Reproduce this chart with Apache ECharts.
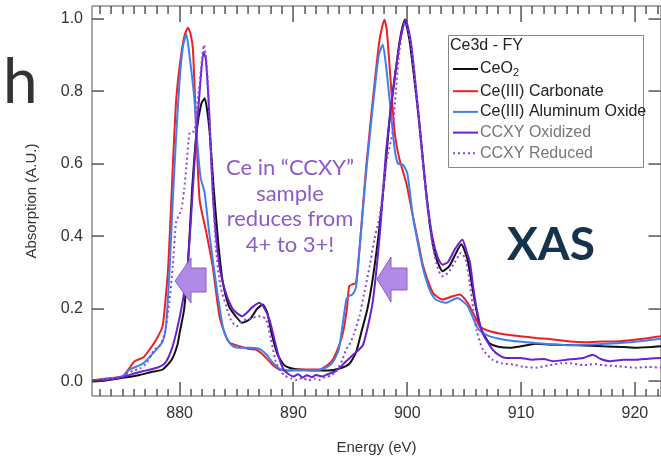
<!DOCTYPE html>
<html>
<head>
<meta charset="utf-8">
<script src="https://cdn.jsdelivr.net/npm/echarts@6/dist/echarts.min.js"></script>
<style>html,body{margin:0;padding:0;background:#fff}#c{width:661px;height:468px}</style>
</head>
<body>
<div id="c"></div>
<script>
// ---- data ----
const energyTicks = [880, 890, 900, 910, 920];
const absTicks = [0, 0.2, 0.4, 0.6, 0.8, 1.0];
const seriesNames = ['CeO2', 'Ce(III) Carbonate', 'Ce(III) Aluminum Oxide', 'CCXY Oxidized', 'CCXY Reduced'];

const ceo2E = [872.3,873.5,875,876.5,877.5,878.5,879.3,879.8,880.0,880.4,880.8,881.1,881.5,881.9,882.2,882.6,883.0,883.4,883.8,884.3,884.8,885.5,886.2,886.8,887.3,887.7,888.1,888.6,889.2,890.0,891.0,892.0,893.0,894.0,894.9,895.5,896.0,896.5,897.0,897.5,898.0,898.5,899.0,899.4,899.8,900.2,900.6,901.0,901.5,902.0,902.5,903.1,903.7,904.3,904.75,905.3,905.9,906.4,907.2,908.0,909.0,910.0,911.3,913,915,917.2,919,920.1,922.3];
const ceo2A = [0.0,0.003,0.01,0.018,0.026,0.033,0.06,0.1,0.134,0.2,0.36,0.53,0.69,0.765,0.781,0.70,0.53,0.38,0.272,0.21,0.185,0.162,0.172,0.2,0.212,0.19,0.13,0.075,0.045,0.035,0.032,0.03,0.03,0.035,0.048,0.08,0.14,0.2,0.29,0.41,0.56,0.74,0.86,0.95,0.997,0.94,0.84,0.73,0.57,0.43,0.345,0.304,0.318,0.355,0.378,0.336,0.226,0.152,0.106,0.096,0.093,0.097,0.104,0.101,0.1,0.097,0.095,0.093,0.097];

const carbE = [872.3,873.5,875.0,876.05,876.8,877.4,877.95,878.5,878.8,879.0,879.27,879.5,879.7,880.0,880.4,880.73,880.95,881.17,881.47,881.76,882.35,882.9,883.5,884.0,884.4,885.3,886.0,886.7,887.1,887.6,888.2,888.8,889.5,890.5,891.5,892.3,893.0,893.45,893.9,894.35,894.7,894.9,895.2,895.5,895.8,896.1,896.4,896.98,897.57,898.0,898.2,898.45,898.9,899.33,899.92,900.5,901.0,901.4,902.27,903.1,904.0,904.6,905.3,906.07,906.36,907.2,908.5,909.9,911.3,912.8,914.3,915.7,917.2,918.7,920.5,922.3];
const carbA = [0.003,0.008,0.015,0.056,0.066,0.09,0.116,0.152,0.24,0.318,0.50,0.66,0.777,0.869,0.95,0.975,0.96,0.915,0.686,0.50,0.41,0.318,0.18,0.13,0.107,0.097,0.09,0.088,0.08,0.065,0.045,0.033,0.03,0.033,0.033,0.033,0.045,0.06,0.09,0.134,0.2,0.263,0.268,0.272,0.364,0.48,0.593,0.777,0.942,0.997,0.97,0.869,0.686,0.611,0.547,0.455,0.38,0.318,0.244,0.226,0.235,0.24,0.217,0.171,0.152,0.139,0.13,0.125,0.12,0.116,0.11,0.108,0.11,0.111,0.117,0.125];

const aloxE = [872.3,873.5,875.0,875.6,876.8,877.95,878.5,878.8,879.1,879.4,879.7,880.0,880.3,880.59,880.9,881.3,881.6,881.85,882.05,882.2,882.6,883.2,883.8,884.2,884.7,885.4,886.15,887.0,887.6,888.2,888.8,889.5,890.5,891.5,892.3,893.0,893.5,894.0,894.65,894.9,895.2,895.5,895.8,896.1,896.4,896.98,897.5,897.85,898.1,898.45,898.9,899.2,899.6,900.0,900.5,901.0,901.4,902.0,902.5,903.4,904.4,905.3,906.1,906.4,907.2,908.4,909.8,911.3,914.3,917.2,919.5,922.3];
const aloxA = [0.003,0.006,0.013,0.033,0.05,0.088,0.11,0.15,0.3,0.5,0.68,0.83,0.925,0.958,0.89,0.777,0.64,0.56,0.538,0.52,0.41,0.27,0.15,0.115,0.097,0.093,0.093,0.09,0.075,0.052,0.035,0.03,0.03,0.03,0.032,0.04,0.055,0.09,0.226,0.236,0.24,0.26,0.36,0.47,0.58,0.76,0.9,0.928,0.88,0.777,0.64,0.60,0.598,0.575,0.455,0.37,0.31,0.25,0.226,0.217,0.23,0.208,0.152,0.14,0.125,0.116,0.11,0.106,0.10,0.103,0.108,0.118];

const oxidE = [872.3,873.5,875,876,877,878,878.7,879.2,879.7,880.3,880.7,881.0,881.4,881.76,882.1,882.3,882.6,882.95,883.5,884.1,884.7,885.5,886.4,887.0,887.4,887.9,888.3,888.7,889.1,889.5,890.0,890.4,890.8,891.2,891.6,892.0,892.5,893.0,893.8,894.6,895.3,896.1,896.6,897.0,897.6,898.16,898.75,899.33,899.86,900.3,900.7,901.2,901.7,902.2,902.7,903.1,903.6,904.2,904.85,905.2,905.5,905.8,906.1,906.6,907.5,908.2,908.7,909.9,911,912,912.8,914,915.5,916.3,917,917.8,919,920.1,921.2,922.3];
const oxidA = [0.003,0.005,0.012,0.022,0.03,0.038,0.05,0.08,0.134,0.226,0.318,0.45,0.65,0.80,0.908,0.89,0.74,0.50,0.318,0.24,0.198,0.18,0.205,0.217,0.205,0.17,0.12,0.07,0.035,0.022,0.014,0.02,0.011,0.017,0.012,0.018,0.014,0.02,0.03,0.055,0.075,0.1,0.16,0.226,0.41,0.64,0.80,0.933,0.998,0.94,0.83,0.67,0.51,0.40,0.34,0.322,0.33,0.365,0.391,0.36,0.33,0.26,0.2,0.135,0.088,0.07,0.065,0.065,0.06,0.062,0.056,0.06,0.065,0.074,0.062,0.056,0.06,0.06,0.063,0.065];

const redE = [872.3,873.5,875,875.9,876.5,877.07,877.8,878.3,878.7,879.1,879.4,879.7,880.15,880.4,880.6,880.88,881.3,881.5,881.76,882.0,882.14,882.3,882.5,882.8,883.2,883.6,884.1,884.5,885.0,885.4,885.86,886.4,886.9,887.3,887.6,888.0,888.4,888.8,889.3,889.8,890.3,890.8,891.3,891.8,892.3,892.8,893.3,893.8,894.3,894.65,894.9,895.3,895.8,896.2,896.7,897.1,897.57,898.16,898.3,898.7,899.0,899.33,899.77,900.3,900.7,901.2,901.7,902.2,902.7,903.1,903.6,904.2,904.75,905.2,905.5,905.8,906.1,906.65,907.5,908.3,909.3,910.3,911.3,912.5,913.5,914.3,915.5,916.5,917.2,918.5,920.1,921.2,922.3];
const redA = [0.003,0.006,0.015,0.03,0.035,0.05,0.088,0.1,0.134,0.22,0.318,0.44,0.474,0.53,0.593,0.686,0.69,0.75,0.823,0.9,0.928,0.9,0.82,0.593,0.364,0.26,0.207,0.17,0.152,0.165,0.171,0.175,0.18,0.178,0.171,0.12,0.06,0.03,0.015,0.008,0.004,0.01,0.003,0.008,0.004,0.012,0.016,0.03,0.06,0.09,0.1,0.13,0.18,0.24,0.318,0.39,0.455,0.60,0.625,0.686,0.8,0.915,0.99,0.93,0.82,0.66,0.5,0.38,0.31,0.29,0.3,0.33,0.355,0.33,0.27,0.2,0.14,0.088,0.06,0.05,0.047,0.04,0.038,0.045,0.05,0.05,0.045,0.048,0.045,0.042,0.038,0.04,0.038];

const minorTicks = [];
for (let e = 873; e <= 922; e++) { if (e % 10 !== 0) minorTicks.push(e); }

function pairs(E, A) { return E.map((e, i) => [e, A[i]]); }

const colors = ['#111111', '#f02020', '#3b82f0', '#6a1fd2', '#8a45e6'];
const purpleText = '#8d5cc6';
const axisCol = '#555';
const font = 'Liberation Sans';
const X_MIN = 872.3, X_MAX = 922.3, Y_MIN = -0.04, Y_MAX = 1.035;
const GRID = {left: 92, right: 0, top: 6, bottom: 72};

const chart = echarts.init(document.getElementById('c'), null, {renderer: 'canvas'});

const baseGraphic = [
  {id: 'lbox', type: 'rect', z: 15, shape: {x: 448.5, y: 35.5, width: 195, height: 132},
    style: {fill: '#fff', stroke: '#888', lineWidth: 1}},
  {id: 'ltitle', type: 'text', z: 16, left: 450, top: 38, style: {text: 'Ce3d - FY', font: '16px "Liberation Sans"', fill: '#222'}},
  {id: 'h', type: 'text', z: 16, left: 3, top: 52, style: {text: 'h', font: '62px Lato', fill: '#333'}},
  {id: 'xas', type: 'text', z: 16, left: 507, top: 222, style: {text: 'XAS', font: 'bold 46px Lato', fill: '#17324d'}},
  {id: 'note', type: 'text', z: 16, x: 290, y: 155, style: {text: 'Ce in \u201CCCXY\u201D\nsample\nreduces from\n4+ to 3+!', font: '22px Lato', fill: purpleText, align: 'center', lineHeight: 25.7}},
  {id: 'arr1', type: 'polygon', z: 16, shape: {points: [[175, 281], [191, 258], [191, 268], [206, 268], [206, 292], [191, 292], [191, 303]]},
    style: {fill: '#b189e6', stroke: '#8c5fc8', lineWidth: 1}},
  {id: 'arr2', type: 'polygon', z: 16, shape: {points: [[377, 279], [391, 257], [391, 268], [407, 268], [407, 290], [391, 290], [391, 302]]},
    style: {fill: '#b189e6', stroke: '#8c5fc8', lineWidth: 1}}
];

const option = {
  backgroundColor: '#fff',
  animation: false,
  grid: Object.assign({show: true, borderColor: axisCol, borderWidth: 1}, GRID),
  xAxis: {
    type: 'value', min: X_MIN, max: X_MAX,
    splitLine: {show: false}, axisLine: {show: false}, axisTick: {show: false},
    name: 'Energy (eV)', nameLocation: 'middle', nameGap: 44,
    nameTextStyle: {fontFamily: font, fontSize: 15, color: '#333'},
    axisLabel: {show: true, customValues: energyTicks, fontFamily: font, fontSize: 16, color: '#333', margin: 10}
  },
  yAxis: {
    type: 'value', min: Y_MIN, max: Y_MAX,
    splitLine: {show: false}, axisLine: {show: false}, axisTick: {show: false},
    name: 'Absorption (A.U.)', nameLocation: 'middle', nameGap: 53, nameRotate: 90,
    nameTextStyle: {fontFamily: font, fontSize: 15, color: '#333'},
    axisLabel: {show: true, customValues: absTicks, formatter: v => v.toFixed(1), fontFamily: font, fontSize: 16, color: '#333', margin: 9}
  },
  legend: {
    orient: 'vertical', left: 452, top: 61, padding: 0,
    itemWidth: 25, itemHeight: 14, itemGap: 4.7,
    itemStyle: {opacity: 0},
    textStyle: {fontFamily: font, fontSize: 16, color: '#222', padding: [0, 0, 0, -3],
      rich: {sub: {fontFamily: font, fontSize: 11, padding: [8, 0, 0, 0], color: '#222'}}},
    formatter: name => name === 'CeO2' ? 'CeO{sub|2}' : name,
    data: [
      {name: 'CeO2'},
      {name: 'Ce(III) Carbonate'},
      {name: 'Ce(III) Aluminum Oxide'},
      {name: 'CCXY Oxidized', textStyle: {color: '#777'}},
      {name: 'CCXY Reduced', textStyle: {color: '#777'}}
    ],
    z: 20
  },
  series: [
    {name: seriesNames[0], data: pairs(ceo2E, ceo2A), color: colors[0]},
    {name: seriesNames[1], data: pairs(carbE, carbA), color: colors[1]},
    {name: seriesNames[2], data: pairs(aloxE, aloxA), color: colors[2]},
    {name: seriesNames[3], data: pairs(oxidE, oxidA), color: colors[3]},
    {name: seriesNames[4], data: pairs(redE, redA), color: colors[4], dash: [2, 3]}
  ].map(s => ({
    type: 'line', name: s.name, data: s.data, color: s.color,
    showSymbol: false, symbol: 'none', smooth: 0.2,
    z: 2,
    lineStyle: {width: 2, color: s.color, type: s.dash || 'solid'}
  })),
  graphic: baseGraphic
};
chart.setOption(option);

// tick marks: x from the chart's own scale, edges from the grid layout
const W = chart.getWidth(), H = chart.getHeight();
const px = v => chart.convertToPixel({gridIndex: 0}, v);
const yBottom = H - GRID.bottom;
const yTop = GRID.top;
const xLeft = GRID.left;
const xRight = W - GRID.right - 0.5;
const tickStyle = {stroke: '#333', lineWidth: 1.5};
const tickEls = [];
function addX(v, lb, lt) {
  const x = Math.round(px([v, 0])[0]);
  tickEls.push({type: 'rect', z: 30, silent: true, shape: {x: x - 0.6, y: yBottom - lb, width: 1.3, height: lb}, style: {fill: '#3a3a3a'}});
  tickEls.push({type: 'rect', z: 30, silent: true, shape: {x: x - 0.6, y: yTop, width: 1.3, height: lt}, style: {fill: '#3a3a3a'}});
}
energyTicks.forEach(v => addX(v, 14, 16));
minorTicks.forEach(v => addX(v, 7, 8));
absTicks.forEach(v => {
  const y = Math.round(px([X_MIN, v])[1]);
  tickEls.push({type: 'rect', z: 30, silent: true, shape: {x: xLeft, y: y - 0.6, width: 12, height: 1.3}, style: {fill: '#3a3a3a'}});
  tickEls.push({type: 'rect', z: 30, silent: true, shape: {x: xRight - 12, y: y - 0.6, width: 12, height: 1.3}, style: {fill: '#3a3a3a'}});
});
chart.setOption({graphic: baseGraphic.concat(tickEls)});
</script>
</body>
</html>
